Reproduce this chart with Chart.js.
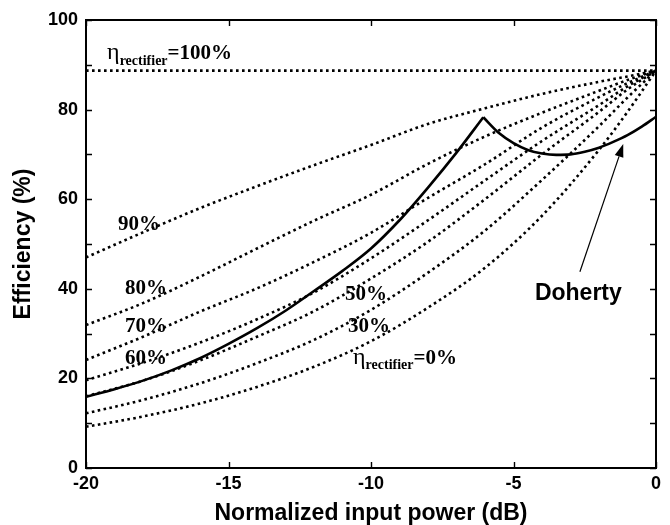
<!DOCTYPE html>
<html>
<head>
<meta charset="utf-8">
<script src="https://cdn.jsdelivr.net/npm/chart.js@4.4.0/dist/chart.umd.min.js"></script>
<style>
  html,body{margin:0;padding:0;background:#fff}
  #wrap{width:670px;height:525px}
</style>
</head>
<body>
<div id="wrap"><canvas id="chart" width="670" height="525"></canvas></div>
<script>
/* efficiency vs normalized input power, rectifier curves + doherty */

/* data */
const powerDb = [-20, -18, -16, -14, -12, -10, -8, -6, -4, -2, -1, 0];
const eff0   = [ 9.2, 11.5, 14.4, 18.1, 22.6, 28.3, 35.8, 44.7, 56.3, 71.0, 79.5, 88.7];
const eff30  = [12.2, 15.2, 18.9, 23.4, 28.6, 35.3, 43.6, 53.0, 64.3, 76.3, 82.7, 88.7];
const eff50  = [16.0, 19.5, 24.0, 29.3, 35.0, 42.3, 50.5, 60.0, 70.0, 79.5, 84.5, 88.7];
const eff60  = [19.6, 23.5, 28.0, 33.2, 39.2, 46.8, 55.3, 64.2, 73.0, 81.0, 85.2, 88.7];
const eff70  = [24.1, 29.3, 34.9, 40.1, 46.0, 52.5, 60.3, 67.8, 76.0, 82.8, 85.9, 88.7];
const eff80  = [31.9, 36.8, 42.7, 49.0, 55.2, 61.0, 67.9, 74.0, 79.3, 84.2, 86.6, 88.7];
const eff90  = [47.0, 52.6, 58.0, 62.9, 67.6, 72.1, 76.8, 80.3, 83.5, 86.2, 87.4, 88.7];
const eff100 = [88.7, 88.7, 88.7, 88.7, 88.7, 88.7, 88.7, 88.7, 88.7, 88.7, 88.7, 88.7];

const dohertyDb  = [-20, -19, -18, -17, -16, -15, -14, -13, -12, -11, -10, -9, -8, -7, -6.06, -5.5, -5, -4.5, -4, -3.5, -3, -2.5, -2, -1.5, -1, -0.5, 0];
const dohertyEff = [15.9, 17.6, 19.5, 21.8, 24.5, 27.7, 31.2, 35.1, 39.5, 44.0, 49.0, 55.3, 62.6, 70.4, 78.3, 74.7, 72.5, 71.0, 70.2, 69.9, 70.0, 70.6, 71.5, 72.8, 74.3, 76.2, 78.4];
const dohertyPeak = 14; // index of the cusp

const xTicks = [-20, -15, -10, -5, 0];

/* text annotations, in data units (dB, %) */
const pctLabels = [
  {text:'90%', x:-18.88, y:53.1},
  {text:'80%', x:-18.63, y:38.8},
  {text:'70%', x:-18.63, y:30.4},
  {text:'60%', x:-18.63, y:23.2},
  {text:'50%', x:-10.91, y:37.5},
  {text:'30%', x:-10.81, y:30.4}
];
const etaLabels = [
  {tail:'=100%', x:-19.26, y:91.2},
  {tail:'=0%',   x:-10.63, y:23.3}
];
const dohertyNote = {text:'Doherty', x:-4.25, y:37.5, fromX:-2.67, fromY:43.8, toX:-1.15, toY:72.3};

/* helpers */
function curve(vals){
  return powerDb.map((p,i)=>({x:p, y:vals[i]}));
}
function dotted(vals){
  return {
    data: curve(vals), borderColor:'#000', borderWidth:2.6, borderDash:[2.6,3.4],
    pointRadius:0, cubicInterpolationMode:'monotone', fill:false
  };
}
function solid(from, to){
  const pts = [];
  for(let i=from;i<=to;i++) pts.push({x:dohertyDb[i], y:dohertyEff[i]});
  return {data:pts, borderColor:'#000', borderWidth:2.6, pointRadius:0, cubicInterpolationMode:'monotone', fill:false};
}

/* inward ticks, frame and text */
const decor = {
  id:'decor',
  afterDatasetsDraw(chart){
    const {ctx, chartArea:a, scales:{x, y}} = chart;
    ctx.save();
    ctx.strokeStyle = '#000';
    ctx.lineWidth = 1.4;
    const tl = 6;
    y.ticks.forEach(t=>{
      const py = Math.round(y.getPixelForValue(t.value)) + 0.5;
      ctx.beginPath();
      ctx.moveTo(a.left, py); ctx.lineTo(a.left + tl, py);
      ctx.moveTo(a.right, py); ctx.lineTo(a.right - tl, py);
      ctx.stroke();
    });
    x.ticks.forEach(t=>{
      const px = Math.round(x.getPixelForValue(t.value)) + 0.5;
      ctx.beginPath();
      ctx.moveTo(px, a.bottom); ctx.lineTo(px, a.bottom - tl);
      ctx.moveTo(px, a.top); ctx.lineTo(px, a.top + tl);
      ctx.stroke();
    });
    ctx.lineWidth = 2;
    ctx.strokeRect(a.left, a.top, a.right - a.left, a.bottom - a.top);

    ctx.fillStyle = '#000';
    ctx.textBaseline = 'alphabetic';
    ctx.textAlign = 'left';
    ctx.font = 'bold 21px "Liberation Serif"';
    pctLabels.forEach(l=>{
      ctx.fillText(l.text, x.getPixelForValue(l.x), y.getPixelForValue(l.y));
    });

    etaLabels.forEach(l=>{
      let px = x.getPixelForValue(l.x);
      const py = y.getPixelForValue(l.y);
      ctx.font = '24px "Liberation Serif"';
      ctx.fillText('\u03B7', px, py);
      px += ctx.measureText('\u03B7').width;
      ctx.font = 'bold 14px "Liberation Serif"';
      ctx.fillText('rectifier', px, py + 5.5);
      px += ctx.measureText('rectifier').width;
      ctx.font = 'bold 21px "Liberation Serif"';
      ctx.fillText(l.tail, px, py);
    });

    ctx.font = 'bold 23px "Liberation Sans"';
    ctx.fillText(dohertyNote.text, x.getPixelForValue(dohertyNote.x), y.getPixelForValue(dohertyNote.y));

    // arrow
    const x0 = x.getPixelForValue(dohertyNote.fromX), y0 = y.getPixelForValue(dohertyNote.fromY);
    const x1 = x.getPixelForValue(dohertyNote.toX),   y1 = y.getPixelForValue(dohertyNote.toY);
    const ang = Math.atan2(y1 - y0, x1 - x0);
    const hl = 13, hw = 4.5;
    const bx = x1 - hl*Math.cos(ang), by = y1 - hl*Math.sin(ang);
    ctx.lineWidth = 1.2;
    ctx.beginPath(); ctx.moveTo(x0, y0); ctx.lineTo(bx, by); ctx.stroke();
    ctx.beginPath();
    ctx.moveTo(x1, y1);
    ctx.lineTo(bx + hw*Math.sin(ang), by - hw*Math.cos(ang));
    ctx.lineTo(bx - hw*Math.sin(ang), by + hw*Math.cos(ang));
    ctx.closePath(); ctx.fill();
    ctx.restore();
  }
};

const tickFont = {family:'"Liberation Sans"', size:18, weight:'bold'};
const titleFont = {family:'"Liberation Sans"', size:23, weight:'bold', lineHeight:1};

new Chart(document.getElementById('chart'), {
  type:'line',
  data:{
    datasets:[
      dotted(eff100), dotted(eff90), dotted(eff80), dotted(eff70),
      dotted(eff60), dotted(eff50), dotted(eff30), dotted(eff0),
      solid(0, dohertyPeak),
      solid(dohertyPeak, dohertyDb.length - 1)
    ]
  },
  options:{
    responsive:false, animation:false, devicePixelRatio:1,
    layout:{padding:{top:20, right:14, left:0, bottom:0}},
    plugins:{legend:{display:false}, tooltip:{enabled:false}},
    scales:{
      x:{
        type:'linear', min:-20, max:0,
        afterBuildTicks: s => { s.ticks = xTicks.map(v=>({value:v})); },
        afterFit: s => { s.height = 57; },
        grid:{display:false, drawTicks:false},
        border:{display:false},
        ticks:{color:'#000', font:tickFont, padding:5, maxRotation:0},
        title:{display:true, text:'Normalized input power (dB)', color:'#000', font:titleFont, padding:{top:0, bottom:0}}
      },
      y:{
        min:0, max:100,
        afterFit: s => { s.width = 86; },
        grid:{display:false, drawTicks:false},
        border:{display:false},
        ticks:{color:'#000', font:tickFont, padding:8, stepSize:10, callback: v => (v % 20 === 0 ? v : '')},
        title:{display:true, text:'Efficiency (%)', color:'#000', font:titleFont, padding:{top:12, bottom:0}}
      }
    }
  },
  plugins:[decor]
});
</script>
</body>
</html>
